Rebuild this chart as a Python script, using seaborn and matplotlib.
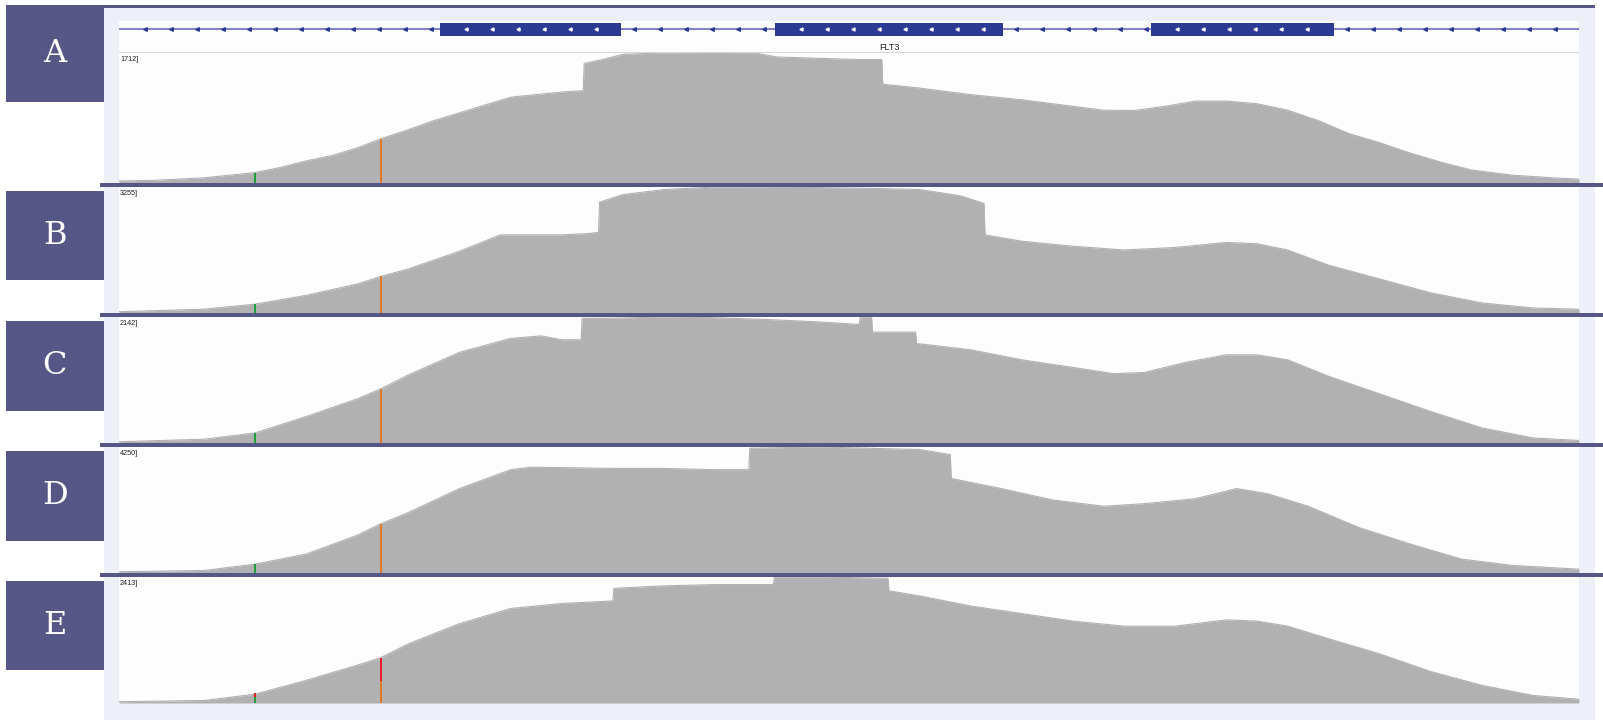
import numpy as np
import matplotlib
matplotlib.use("Agg")
import seaborn as sns
from matplotlib import pyplot as plt
from matplotlib.patches import Rectangle

W, H = 1603, 727

# x positions are in track units: 0 = left edge of the data area, 1428 = right edge
gene_name = "FLT3"
exon_starts = [314, 642, 1009]
exon_ends = [491, 865, 1188]

sample_labels = ["A", "B", "C", "D", "E"]
range_max = [1712, 3255, 2142, 4250, 2413]

pos_a = [0, 33, 83, 133, 158, 183, 208, 233, 256, 283, 308, 333, 358, 383, 408, 433, 454, 455, 473, 493,
         533, 583, 623, 643, 683, 723, 746, 747, 783, 833, 883, 923, 963, 993, 1023, 1053, 1083, 1113,
         1143, 1173, 1203, 1233, 1263, 1293, 1323, 1363, 1403, 1428]
depth_a = [27, 34, 68, 137, 205, 291, 360, 462, 582, 702, 822, 924, 1027, 1130, 1164, 1198, 1216, 1575,
           1626, 1695, 1712, 1705, 1710, 1660, 1643, 1626, 1626, 1301, 1250, 1164, 1096, 1027, 959, 955,
           1010, 1079, 1079, 1044, 959, 822, 651, 531, 394, 274, 171, 103, 68, 51]

pos_b = [0, 83, 133, 183, 233, 256, 283, 333, 373, 403, 433, 458, 469, 470, 493, 533, 583, 633, 683, 733,
         783, 823, 846, 847, 883, 933, 983, 1033, 1083, 1113, 1143, 1183, 1233, 1283, 1333, 1383, 1428]
depth_b = [33, 98, 228, 456, 749, 944, 1139, 1595, 2018, 2018, 2018, 2051, 2083, 2864, 3060, 3190, 3255,
           3250, 3240, 3222, 3190, 3027, 2832, 2018, 1855, 1725, 1628, 1693, 1823, 1790, 1628, 1237, 879,
           521, 260, 130, 98]

pos_c = [0, 83, 133, 183, 233, 256, 283, 333, 383, 413, 433, 452, 453, 483, 533, 583, 633, 683, 724, 725,
         736, 737, 779, 780, 833, 883, 933, 973, 1003, 1043, 1083, 1113, 1143, 1183, 1233, 1283, 1333,
         1383, 1428]
depth_c = [21, 64, 171, 450, 750, 921, 1157, 1542, 1778, 1821, 1756, 1756, 2120, 2121, 2142, 2130, 2100,
           2060, 2015, 2142, 2142, 1885, 1885, 1692, 1585, 1414, 1285, 1178, 1200, 1371, 1499, 1499,
           1414, 1135, 835, 536, 257, 86, 43]

pos_d = [0, 83, 133, 183, 233, 256, 283, 333, 383, 403, 483, 533, 583, 616, 617, 683, 783, 813, 814, 863,
         913, 963, 1003, 1053, 1093, 1123, 1163, 1213, 1263, 1313, 1363, 1428]
depth_d = [43, 85, 298, 638, 1275, 1658, 2040, 2848, 3485, 3570, 3528, 3528, 3485, 3485, 4208, 4250, 4165,
           3995, 3188, 2848, 2465, 2253, 2338, 2508, 2848, 2678, 2253, 1530, 978, 468, 255, 128]

pos_e = [0, 83, 133, 183, 233, 256, 283, 333, 383, 433, 483, 484, 533, 583, 640, 641, 683, 752, 753, 783,
         833, 883, 933, 983, 1033, 1083, 1113, 1143, 1183, 1233, 1283, 1333, 1383, 1428]
depth_e = [24, 48, 169, 434, 724, 869, 1134, 1520, 1810, 1906, 1955, 2196, 2244, 2268, 2268, 2413, 2413,
           2389, 2148, 2051, 1858, 1713, 1568, 1472, 1472, 1593, 1568, 1472, 1231, 941, 603, 338, 145, 72]

variant_pos = [133, 256]
variant_depth = [[137, 582], [228, 944], [171, 921], [298, 1658], [193, 869]]
variant_alt_frac = [[0, 0], [0, 0], [0, 0], [0, 0], [0.45, 0.52]]

positions = [pos_a, pos_b, pos_c, pos_d, pos_e]
depths = [depth_a, depth_b, depth_c, depth_d, depth_e]

# colours and layout (pixels, measured from the top left corner)
frame_col = "#575787"
panel_col = "#eef0f9"
track_col = "#fdfdfd"
cov_col = "#b0b1b0"
exon_col = "#2b3a93"
intron_col = "#8585c6"
ref_cols = ["#1d9f3e", "#e07a28"]
alt_col = "#e8202c"

track_tops = [53, 187, 317, 447, 577]
track_bots = [183, 313, 443, 573, 703]
box_tops = [5, 191, 321, 451, 581]
box_bots = [102, 280, 411, 541, 670]
data_x0, data_x1 = 119, 1579

sns.set_theme(style="white")
plt.rcParams["font.family"] = ["DejaVu Sans"]

fig = plt.figure(figsize=(W / 100, H / 100), dpi=100)
fig.patch.set_facecolor("white")


def rect(x0, y0, x1, y1, color, z):
    fig.add_artist(Rectangle((x0 / W, 1 - y1 / H), (x1 - x0) / W, (y1 - y0) / H,
                             transform=fig.transFigure, facecolor=color, lw=0, zorder=z))


def axes_px(x0, y0, x1, y1):
    ax = fig.add_axes([x0 / W, 1 - y1 / H, (x1 - x0) / W, (y1 - y0) / H])
    ax.set_axis_off()
    return ax


# frame
rect(104, 8, 1595, 720, panel_col, -3)
rect(data_x0, 21, data_x1, 703, track_col, -2)
rect(104, 5, 1595, 8, frame_col, 5)
for yb in track_bots[:-1]:
    rect(100, yb, W, yb + 4, frame_col, 5)
for lab, yt, yb in zip(sample_labels, box_tops, box_bots):
    rect(6, yt, 104, yb, frame_col, 5)
    fig.text(55 / W, 1 - (yt + yb) / 2 / H, lab, color="white", fontsize=23,
             family="DejaVu Serif", ha="center", va="center", zorder=6)

# gene track
gax = axes_px(data_x0, 21, data_x1, 53)
gax.set_xlim(0, 1428)
gax.set_ylim(0, 1)
gax.plot([0, 1428], [0.75, 0.75], color=intron_col, lw=1.5, zorder=1)
gax.axhline(0.01, color="#d6d6de", lw=1.5)
step = 25.43
intron_starts = [0] + exon_ends
intron_ends = exon_starts + [1428]
for i, (s, e) in enumerate(zip(intron_starts, intron_ends)):
    off = step if i == 0 else step / 2
    cx = np.arange(s + off, e - 4, step)
    gax.plot(cx, np.full(len(cx), 0.75), ls="none", marker="<", ms=2.6, color=exon_col, zorder=2)
for s, e in zip(exon_starts, exon_ends):
    gax.add_patch(Rectangle((s, 0.53), e - s, 0.41, facecolor=exon_col, lw=0, zorder=3))
    cx = np.arange(s + step, e - 8, step)
    gax.plot(cx, np.full(len(cx), 0.735), ls="none", marker="<", ms=2.2, color="white", zorder=4)
gax.text((exon_starts[1] + exon_ends[1]) / 2, 0.16, gene_name, fontsize=6.5, family="Liberation Sans",
         ha="center", va="center", color="#222222")

# coverage tracks
for i in range(5):
    ax = axes_px(data_x0, track_tops[i], data_x1, track_bots[i])
    ax.set_xlim(0, 1428)
    ax.set_ylim(0, range_max[i])
    ax.fill_between(positions[i], depths[i], color=cov_col, lw=0)
    sns.lineplot(x=positions[i], y=depths[i], ax=ax, color=cov_col, lw=0.8,
                 estimator=None, sort=False, legend=False)
    ax.set_axis_off()
    ref_part = [d * (1 - f) for d, f in zip(variant_depth[i], variant_alt_frac[i])]
    alt_part = [d * f for d, f in zip(variant_depth[i], variant_alt_frac[i])]
    ax.bar(variant_pos, ref_part, width=1.8, color=ref_cols, lw=0, zorder=3)
    ax.bar(variant_pos, alt_part, bottom=ref_part, width=1.8, color=alt_col, lw=0, zorder=3)
    fig.text((data_x0 + 1) / W, 1 - (track_tops[i] + 3) / H, f"{range_max[i]}]", fontsize=5.2,
             family="Liberation Sans", ha="left", va="top", color="#222222", zorder=6)

fig.savefig("out.png", dpi=100, facecolor="white")
